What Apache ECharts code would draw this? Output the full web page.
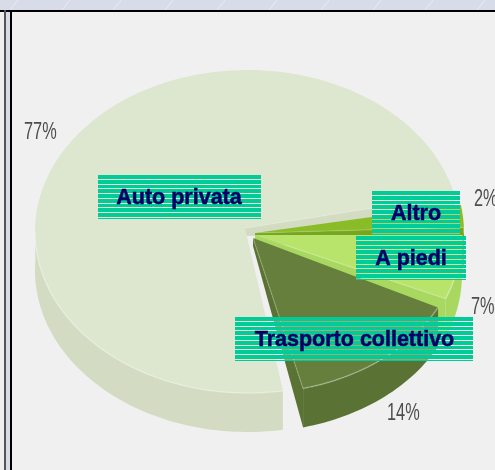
<!DOCTYPE html>
<html><head><meta charset="utf-8">
<style>html,body{margin:0;padding:0;background:#f0f0f0}#c{width:495px;height:470px}</style>
<script src="https://cdn.jsdelivr.net/npm/echarts@6/dist/echarts.min.js"></script>
</head><body><div id="c"></div>
<script>
const categories = ['Altro','A piedi','Trasporto collettivo','Auto privata'];
const values = [2,7,14,77];
const percentLabels = ['2%','7%','14%','77%'];

const colorsTop = ['#8abc28','#b8e46c','#667f3d','#dde6cf'];
const colorsSide = ['#76a51f','#a9d860','#5a7233','#d3dcc2'];
const geom = [
  {ax:255,ay:233,cx:255,cy:233,rx:209,ry:163},
  {ax:255,ay:235,cx:255,cy:235,rx:207,ry:163},
  {ax:253,ay:238,cx:253,cy:238,rx:207,ry:155},
  {ax:245,ay:228,cx:247.5,cy:231.5,rx:212.5,ry:161.5}
];
const depth = 39;
const apexDepth = 8;
const startDeg = -6;
// the original's perspective skews slice edges a little: [start, end] corrections in degrees
const skew = [[-4,-3.2],[-1.2,-3.4],[0.2,-0.8],[3.6,-7]];
const boxes = [
  {x:372,y:191,w:88,h:44,tx:416,ty:214},
  {x:356,y:236,w:110,h:44,tx:411,ty:259},
  {x:235,y:317,w:238,h:44,tx:354.5,ty:340},
  {x:98,y:175,w:163,h:44,tx:179,ty:198}
];
const pct = [
  {x:474,y:199},{x:471,y:307},{x:387,y:413},{x:24,y:132}
];
const shineX = [10,62,113,165,217,269,321,373,425,477];

const total = values.reduce((a,b)=>a+b,0);
const toAngle = v => echarts.number.linearMap(v,[0,total],[0,360],false);
let acc = 0;
const spans = values.map((v,i)=>{
  const s=[startDeg+toAngle(acc)+skew[i][0],startDeg+toAngle(acc+v)+skew[i][1]];
  acc+=v;return s;
});

function arcPts(g,a0,a1,dy){
  const pts=[],n=Math.max(8,Math.ceil((a1-a0)/1.5));
  for(let i=0;i<=n;i++){const a=(a0+(a1-a0)*i/n)*Math.PI/180;
    pts.push([g.cx+g.rx*Math.cos(a),g.cy+g.ry*Math.sin(a)+(dy||0)]);}
  return pts;
}
function sliceEls(i){
  const g=geom[i],[a0,a1]=spans[i],els=[];
  // inner wall along the slice's closing edge
  const e=arcPts(g,a1,a1+1,0)[0];
  els.push({type:'polygon',shape:{points:[[g.ax,g.ay],e,[e[0],e[1]+depth],[g.ax,g.ay+apexDepth]]},style:{fill:colorsSide[i]}});
  // outer wall
  const lo=Math.max(a0,-3), hi=Math.min(a1,183);
  if(hi>lo){
    const top=arcPts(g,lo,hi,0), bot=arcPts(g,lo,hi,depth).reverse();
    els.push({type:'polygon',shape:{points:top.concat(bot)},style:{fill:colorsSide[i]}});
  }
  els.push({type:'polygon',shape:{points:[[g.ax,g.ay]].concat(arcPts(g,a0,a1,0))},
    style:{fill:colorsTop[i]}});
  els.push({type:'polyline',shape:{points:arcPts(g,Math.max(a0,0),Math.min(a1,180),0)},
    style:{fill:'none',stroke:'rgba(255,255,255,0.3)',lineWidth:1.5}});
  els.push({type:'polyline',shape:{points:[[g.ax,g.ay],e]},
    style:{fill:'none',stroke:'rgba(255,255,255,0.15)',lineWidth:1.5}});
  return els;
}
function boxEls(i){
  const b=boxes[i],els=[];
  const period=4.75;
  els.push({type:'rect',shape:{x:b.x,y:b.y,width:b.w,height:b.h},style:{fill:'rgba(255,235,200,0.4)'}});
  for(let y=0;y<b.h;){
    const y0=Math.round(y), y1=Math.round(y+period)-1;
    els.push({type:'rect',shape:{x:b.x,y:b.y+y0,width:b.w,height:Math.min(y1,b.h)-y0},style:{fill:'#00cc99'}});
    y+=period;
  }
  els.push({type:'text',style:{x:b.tx,y:b.ty,text:categories[i],fill:'#000066',stroke:'#000066',lineWidth:0.5,
    font:'bold 21.5px "Liberation Sans"',align:'center',verticalAlign:'middle'},z2:5});
  return els;
}
function pctEl(i,t,p){
  return {type:'text',x:p.x,y:p.y,scaleX:.68,scaleY:1,
    style:{x:0,y:0,text:t,fill:'#4d4d4d',font:'24px "Liberation Sans"',align:'left',verticalAlign:'middle'}};
}
const order=[3,0,1,2];
const chart=echarts.init(document.getElementById('c'),null,{renderer:'canvas'});
chart.setOption({
  animation:false,backgroundColor:'#f0f0f0',
  series:[
    {type:'custom',coordinateSystem:'none',silent:true,
     data:order.map(i=>[i,values[i]]),
     renderItem(p,api){return {type:'group',children:sliceEls(api.value(0))};},z:2},
    {type:'custom',coordinateSystem:'none',silent:true,
     data:values.map((v,i)=>[i,v]),
     renderItem(p,api){const i=api.value(0);return {type:'group',children:boxEls(i).concat([pctEl(i,percentLabels[i],pct[i])])};},z:3}
  ],
  graphic:{elements:[
    {type:'rect',z:10,shape:{x:0,y:0,width:495,height:10},style:{fill:'#d8dce8'}},
    {type:'rect',z:11,shape:{x:0,y:10,width:495,height:2},style:{fill:'#000'}},
    {type:'rect',z:10,shape:{x:4,y:0,width:8,height:470},style:{fill:'#d8dce8'}},
    {type:'rect',z:11,shape:{x:4,y:10,width:2,height:460},style:{fill:'#555'}},
    {type:'rect',z:11,shape:{x:10,y:10,width:2,height:460},style:{fill:'#000'}},
    {type:'text',z:9,x:-24,y:204,scaleX:.68,style:{text:'7%',fill:'#4d4d4d',font:'24px "Liberation Sans"',verticalAlign:'middle'}}
  ].concat(shineX.map(x=>({type:'line',z:10,shape:{x1:x,y1:10,x2:x+8,y2:0},style:{stroke:'rgba(255,255,255,0.45)',lineWidth:1}})))}
});
</script></body></html>
